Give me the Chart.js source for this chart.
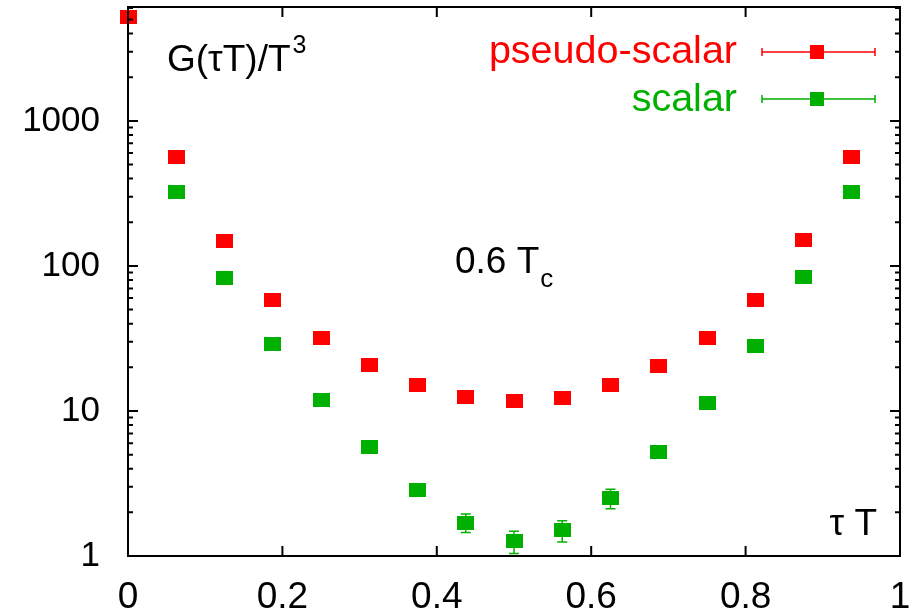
<!DOCTYPE html>
<html>
<head>
<meta charset="utf-8">
<script src="https://cdn.jsdelivr.net/npm/chart.js@4.4.1/dist/chart.umd.min.js"></script>
<style>
  html, body { margin: 0; padding: 0; background: #fff; }
  canvas { display: block; }
</style>
</head>
<body>
<canvas id="corrChart" width="918" height="615"></canvas>
<script>
// tau*T values (Nt = 16)
const tauT = [0, 0.0625, 0.125, 0.1875, 0.25, 0.3125, 0.375, 0.4375, 0.5,
              0.5625, 0.625, 0.6875, 0.75, 0.8125, 0.875, 0.9375];
const pseudoScalar = [5210, 565, 148, 58.3, 31.8, 20.7, 15.1, 12.4, 11.7,
                      12.3, 15.1, 20.4, 31.7, 58.3, 151, 565];
const pseudoScalarErr = [40, 4, 1, 0.4, 0.3, 0.2, 0.15, 0.15, 0.15,
                         0.15, 0.15, 0.2, 0.3, 0.4, 1, 4];
const scalar = [null, 325, 83, 29, 11.9, 5.65, 2.85, 1.7, 1.26,
                1.5, 2.5, 5.21, 11.4, 28.1, 84, 324];
const scalarErr = [null, 3, 0.8, 0.3, 0.15, 0.08, 0.08, 0.25, 0.22,
                   0.25, 0.38, 0.08, 0.15, 0.3, 0.8, 3];
const xTicks = [0, 0.2, 0.4, 0.6, 0.8, 1];
const yTicks = [1, 10, 100, 1000];

const RED = '#ff0000';
const GREEN = '#00b000';
const FONT = '"Liberation Sans", Arial, Helvetica, sans-serif';

function makeMarker(color, w, h) {
    const c = document.createElement('canvas');
    c.width = w;
    c.height = h;
    const g = c.getContext('2d');
    g.fillStyle = color;
    g.fillRect(0, 0, w, h);
    return c;
}

function noPadding(s) {
    s.paddingTop = 0;
    s.paddingBottom = 0;
    s.paddingLeft = 0;
    s.paddingRight = 0;
}

// error bars, drawn under the markers
const errorBars = {
    id: 'errorBars',
    beforeDatasetsDraw(chart) {
        const ctx = chart.ctx;
        const xs = chart.scales.x, ys = chart.scales.y;
        const sets = [[pseudoScalar, pseudoScalarErr, RED], [scalar, scalarErr, GREEN]];
        ctx.save();
        ctx.beginPath();
        ctx.rect(0, chart.chartArea.top, chart.width, chart.chartArea.bottom - chart.chartArea.top);
        ctx.clip();
        ctx.lineWidth = 1.5;
        sets.forEach(([vals, errs, color]) => {
            ctx.strokeStyle = color;
            vals.forEach((v, i) => {
                if (v === null) return;
                const x = xs.getPixelForValue(tauT[i]);
                const yt = ys.getPixelForValue(v + errs[i]);
                const yb = ys.getPixelForValue(Math.max(v - errs[i], 1));
                ctx.beginPath();
                ctx.moveTo(x, yt); ctx.lineTo(x, yb);
                ctx.moveTo(x - 5, yt); ctx.lineTo(x + 5, yt);
                ctx.moveTo(x - 5, yb); ctx.lineTo(x + 5, yb);
                ctx.stroke();
            });
        });
        ctx.restore();
    }
};

// gnuplot style frame with inward ticks on all four sides
const frame = {
    id: 'frame',
    afterDraw(chart) {
        const ctx = chart.ctx;
        const a = chart.chartArea;
        const xs = chart.scales.x, ys = chart.scales.y;
        ctx.save();
        ctx.strokeStyle = '#000';
        ctx.lineWidth = 2;
        ctx.strokeRect(a.left, a.top, a.right - a.left, a.bottom - a.top);
        ctx.beginPath();
        xTicks.forEach(t => {
            const x = xs.getPixelForValue(t);
            ctx.moveTo(x, a.bottom); ctx.lineTo(x, a.bottom - 10);
            ctx.moveTo(x, a.top); ctx.lineTo(x, a.top + 10);
        });
        for (let d = 1; d <= 1000; d *= 10) {
            for (let m = 1; m <= 9; m++) {
                const v = d * m;
                if (v > ys.max) break;
                const y = ys.getPixelForValue(v);
                const len = m === 1 ? 10 : 5;
                ctx.moveTo(a.left, y); ctx.lineTo(a.left + len, y);
                ctx.moveTo(a.right, y); ctx.lineTo(a.right - len, y);
            }
        }
        ctx.stroke();

        // labels inside the plot
        ctx.fillStyle = '#000';
        ctx.textAlign = 'left';
        ctx.textBaseline = 'alphabetic';
        ctx.font = '37px ' + FONT;
        ctx.fillText('G(\u03c4T)/T', 167, 71);
        const gw = ctx.measureText('G(\u03c4T)/T').width;
        ctx.font = '25px ' + FONT;
        ctx.fillText('3', 167 + gw + 2, 53);

        ctx.font = '37px ' + FONT;
        ctx.fillText('0.6 T', 455, 273);
        const tw = ctx.measureText('0.6 T').width;
        ctx.font = '26px ' + FONT;
        ctx.fillText('c', 455 + tw + 1, 287);

        ctx.font = '37px ' + FONT;
        ctx.textAlign = 'right';
        ctx.fillText('\u03c4 T', 877, 535);

        // key
        const rows = [['pseudo-scalar', RED, 63, 52], ['scalar', GREEN, 111, 99]];
        rows.forEach(([label, color, base, ly]) => {
            ctx.font = '39.5px ' + FONT;
            ctx.textAlign = 'right';
            ctx.fillStyle = color;
            ctx.fillText(label, 737, base);
            ctx.strokeStyle = color;
            ctx.lineWidth = 1.5;
            ctx.beginPath();
            ctx.moveTo(762, ly); ctx.lineTo(875, ly);
            ctx.moveTo(762, ly - 4); ctx.lineTo(762, ly + 4);
            ctx.moveTo(875, ly - 4); ctx.lineTo(875, ly + 4);
            ctx.stroke();
            ctx.fillRect(810, ly - 7, 14, 14);
        });
        ctx.restore();
    }
};

new Chart(document.getElementById('corrChart').getContext('2d'), {
    type: 'scatter',
    data: {
        datasets: [{
            label: 'pseudo-scalar',
            data: tauT.map((t, i) => ({ x: t, y: pseudoScalar[i] })),
            pointStyle: makeMarker(RED, 17, 14),
            clip: false
        }, {
            label: 'scalar',
            data: tauT.map((t, i) => ({ x: t, y: scalar[i] })).filter(p => p.y !== null),
            pointStyle: makeMarker(GREEN, 17, 14),
            clip: false
        }]
    },
    options: {
        responsive: false,
        animation: false,
        layout: { padding: { top: 7, right: 18, left: 0, bottom: 0 } },
        plugins: { legend: { display: false }, tooltip: { enabled: false } },
        scales: {
            x: {
                type: 'linear',
                min: 0,
                max: 1,
                grid: { display: false, drawTicks: false },
                border: { display: false },
                afterBuildTicks: s => { s.ticks = xTicks.map(v => ({ value: v })); },
                afterFit: s => { s.height = 59; noPadding(s); },
                ticks: {
                    color: '#000',
                    padding: 20,
                    maxRotation: 0,
                    font: { family: FONT, size: 37 },
                    callback: v => String(v)
                }
            },
            y: {
                type: 'logarithmic',
                min: 1,
                max: 6100,
                grid: { display: false, drawTicks: false },
                border: { display: false },
                afterBuildTicks: s => { s.ticks = yTicks.map(v => ({ value: v })); },
                afterFit: s => { s.width = 128; noPadding(s); },
                ticks: {
                    color: '#000',
                    padding: 28,
                    font: { family: FONT, size: 35 },
                    callback: v => String(v)
                }
            }
        }
    },
    plugins: [errorBars, frame]
});
</script>
</body>
</html>
